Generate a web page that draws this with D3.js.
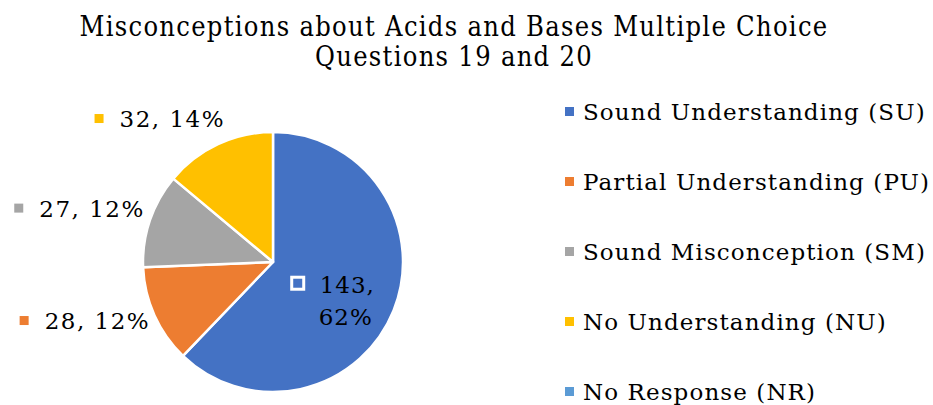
<!DOCTYPE html>
<html>
<head>
<meta charset="utf-8">
<script src="https://cdn.jsdelivr.net/npm/d3@7"></script>
<style>
  body { margin: 0; background: #fff; }
  text { font-family: "DejaVu Serif", serif; fill: #000; }
</style>
</head>
<body>
<div id="chart"></div>
<script>
// data
var categories = ["Sound Understanding (SU)", "Partial Understanding (PU)", "Sound Misconception (SM)", "No Understanding (NU)", "No Response (NR)"];
var counts = [143, 28, 27, 32, 0];
var colors = ["#4472C4", "#ED7D31", "#A5A5A5", "#FFC000", "#5B9BD5"];
var titleLines = ["Misconceptions about Acids and Bases Multiple Choice", "Questions 19 and 20"];

var width = 933, height = 405;
var cx = 273, cy = 262, radius = 130;

var svg = d3.select("#chart").append("svg")
    .attr("width", width)
    .attr("height", height);

// title
svg.append("text")
    .attr("x", 454)
    .attr("y", 36)
    .attr("text-anchor", "middle")
    .style("font-size", "27px")
    .style("font-stretch", "condensed")
    .style("letter-spacing", "1.3px")
    .selectAll("tspan")
    .data(titleLines)
    .enter().append("tspan")
    .attr("x", 454)
    .attr("dy", function(d, i) { return i === 0 ? 0 : 30; })
    .text(function(d) { return d; });

var data = categories.map(function(c, i) { return {name: c, value: counts[i], color: colors[i]}; });
var total = d3.sum(counts);

var pie = d3.pie().sort(null).value(function(d) { return d.value; });
var arcs = pie(data);

var arc = d3.arc().innerRadius(0).outerRadius(radius);

var g = svg.append("g").attr("transform", "translate(" + cx + "," + cy + ")");

g.selectAll("path.slice")
    .data(arcs.filter(function(d) { return d.data.value > 0; }))
    .enter().append("path")
    .attr("class", "slice")
    .attr("d", arc)
    .style("fill", function(d) { return d.data.color; })
    .style("stroke", "#fff")
    .style("stroke-width", 2.5)
    .style("stroke-linejoin", "round");

// data labels
var outerLabelArc = d3.arc().innerRadius(radius * 1.18).outerRadius(radius * 1.18);
var innerLabelArc = d3.arc().innerRadius(radius * 0.52).outerRadius(radius * 0.52);
var fmtPct = function(d) { return Math.round(d.data.value / total * 100) + "%"; };

arcs.forEach(function(d, i) {
    if (d.data.value === 0) return;
    if (i === 0) {
        // inside label, two lines
        var p = innerLabelArc.centroid(d);
        var lg = g.append("g").attr("transform", "translate(" + p[0] + "," + (p[1] + 9) + ")");
        lg.append("rect")
            .attr("x", -44).attr("y", -19)
            .attr("width", 12).attr("height", 12)
            .style("fill", d.data.color)
            .style("stroke", "#fff")
            .style("stroke-width", 3);
        var t = lg.append("text").style("font-size", "23px").style("letter-spacing", "1px");
        t.append("tspan").attr("x", -16).attr("y", -3).text(d.data.value + ",");
        t.append("tspan").attr("x", -17).attr("y", 29).text(fmtPct(d));
    } else {
        var q = outerLabelArc.centroid(d);
        var lg2 = g.append("g").attr("transform", "translate(" + (q[0] + 17) + "," + q[1] + ")");
        var txt = lg2.append("text")
            .attr("text-anchor", "end")
            .attr("y", 4)
            .style("font-size", "23px")
            .style("letter-spacing", "1.5px")
            .text(d.data.value + ", " + fmtPct(d));
        var w = txt.node().getComputedTextLength();
        lg2.append("rect")
            .attr("x", -w - 25).attr("y", -9)
            .attr("width", 9).attr("height", 9)
            .style("fill", d.data.color);
    }
});

// legend
var legend = svg.append("g").attr("transform", "translate(565,112)");
var rows = legend.selectAll("g.row")
    .data(data)
    .enter().append("g")
    .attr("class", "row")
    .attr("transform", function(d, i) { return "translate(0," + (i * 70) + ")"; });

rows.append("rect")
    .attr("x", 0).attr("y", -5)
    .attr("width", 9).attr("height", 9)
    .style("fill", function(d) { return d.color; });

rows.append("text")
    .attr("x", 18)
    .attr("y", 8)
    .style("font-size", "23px")
    .style("letter-spacing", "1.1px")
    .text(function(d) { return d.name; });
</script>
</body>
</html>
